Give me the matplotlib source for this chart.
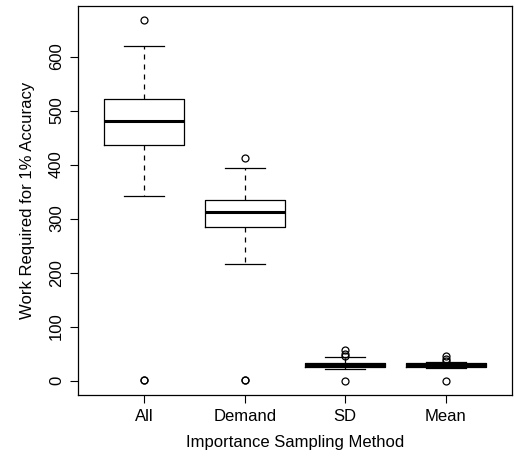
import matplotlib
matplotlib.use("Agg")
import matplotlib.pyplot as plt

plt.rcParams['font.family'] = ['Liberation Sans', 'DejaVu Sans']

# box stats
methods = ["All", "Demand", "SD", "Mean"]
lower_whisker = [342, 216, 22, 23]
q1 = [437, 284, 25, 25]
median = [480, 313, 29, 28]
q3 = [522, 334, 33, 32]
upper_whisker = [619, 394, 43, 34]
outliers = [[667, 2, 1], [413, 2, 1], [56, 50, 46, 0], [46, 40, 36, 0]]

yticks = [0, 100, 200, 300, 400, 500, 600]

stats = []
for i, m in enumerate(methods):
    stats.append(dict(label=m, whislo=lower_whisker[i], q1=q1[i], med=median[i],
                      q3=q3[i], whishi=upper_whisker[i], fliers=outliers[i]))

fig = plt.figure(figsize=(5.15, 4.59), dpi=100)
ax = fig.add_axes([78 / 515, 1 - 395 / 459, 434 / 515, 389 / 459])

ax.bxp(stats, positions=[1, 2, 3, 4], widths=0.8, patch_artist=False,
       boxprops=dict(color='black', linewidth=0.9),
       medianprops=dict(color='black', linewidth=2.2, solid_capstyle='butt'),
       whiskerprops=dict(color='black', linewidth=0.9, linestyle=(0, (4, 4))),
       capprops=dict(color='black', linewidth=0.9),
       capwidths=0.4,
       flierprops=dict(marker='o', markerfacecolor='none', markeredgecolor='black',
                       markersize=5, markeredgewidth=0.9))

lo = min(min(o) for o in outliers)
hi = max(max(o) for o in outliers)
pad = (hi - lo) * 0.04
ax.set_ylim(lo - pad, hi + pad)
ax.set_xlim(0.34, 4.66)

ax.set_yticks(yticks)
ax.set_yticklabels([str(t) for t in yticks], rotation=90, va='center', fontsize=12)
ax.set_xticks([1, 2, 3, 4])
ax.set_xticklabels(methods, fontsize=12)
ax.tick_params(length=6, width=0.8, pad=4)
for s in ax.spines.values():
    s.set_linewidth(0.9)

ax.set_xlabel("Importance Sampling Method", fontsize=12, labelpad=8)
ax.set_ylabel("Work Required for 1% Accuracy", fontsize=12, labelpad=10)

fig.savefig("out.png", dpi=100)
